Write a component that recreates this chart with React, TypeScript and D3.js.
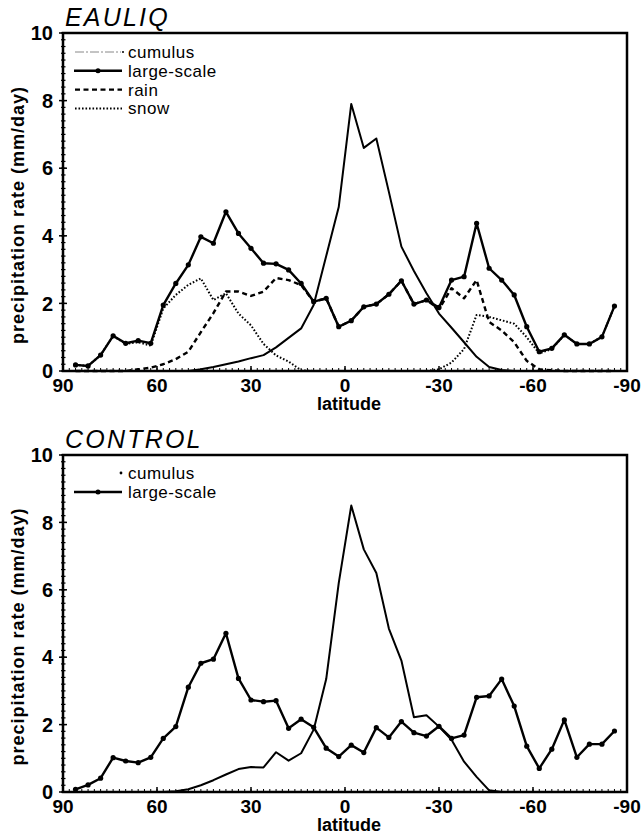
import React from 'react';
import * as d3 from 'd3';

// model latitudes (4 degree grid, north to south)
const latitudes = [
  86, 82, 78, 74, 70, 66, 62, 58, 54, 50, 46, 42, 38, 34, 30, 26, 22, 18, 14, 10, 6, 2,
  -2, -6, -10, -14, -18, -22, -26, -30, -34, -38, -42, -46, -50, -54, -58, -62, -66, -70, -74, -78, -82, -86,
];

const eauliqLargeScale = [
  0.18, 0.15, 0.47, 1.04, 0.82, 0.9, 0.82, 1.95, 2.59, 3.14, 3.97, 3.78, 4.71, 4.07, 3.63, 3.19, 3.17, 2.99, 2.59, 2.05, 2.15, 1.31,
  1.49, 1.9, 1.98, 2.27, 2.67, 1.98, 2.1, 1.88, 2.69, 2.79, 4.37, 3.04, 2.69, 2.25, 1.31, 0.57, 0.67, 1.07, 0.8, 0.8, 1.01, 1.92,
];
const eauliqCumulus = [
  0, 0, 0, 0, 0, 0, 0, 0, 0, 0, 0.05, 0.12, 0.2, 0.28, 0.38, 0.47, 0.7, 0.98, 1.26, 1.95, 3.4, 4.85,
  7.9, 6.6, 6.88, 5.3, 3.68, 2.96, 2.3, 1.7, 1.28, 0.85, 0.42, 0.12, 0.03, 0, 0, 0, 0, 0, 0, 0, 0, 0,
];
const eauliqRain = [
  0, 0, 0, 0, 0, 0.05, 0.1, 0.2, 0.35, 0.57, 1.15, 1.71, 2.35, 2.35, 2.22, 2.35, 2.75, 2.69, 2.54, 2.05, 2.15, 1.31,
  1.49, 1.9, 1.98, 2.27, 2.67, 1.98, 2.1, 1.83, 2.45, 2.15, 2.69, 1.45, 1.2, 0.85, 0.3, 0.05, 0.02, 0, 0, 0, 0, 0,
];
const eauliqSnow = [
  0.18, 0.15, 0.47, 1.04, 0.8, 0.85, 0.75, 1.85, 2.25, 2.55, 2.74, 2.1, 2.3, 1.7, 1.35, 0.8, 0.46, 0.28, 0.02, 0, 0, 0,
  0, 0, 0, 0, 0, 0, 0, 0.05, 0.25, 0.65, 1.66, 1.6, 1.5, 1.4, 1.0, 0.52, 0.65, 1.07, 0.8, 0.8, 1.01, 1.92,
];

const controlLargeScale = [
  0.08, 0.21, 0.41, 1.02, 0.92, 0.87, 1.03, 1.59, 1.94, 3.11, 3.82, 3.94, 4.71, 3.37, 2.73, 2.68, 2.71, 1.89, 2.16, 1.92, 1.3, 1.05,
  1.39, 1.17, 1.91, 1.62, 2.09, 1.76, 1.66, 1.95, 1.59, 1.69, 2.81, 2.85, 3.35, 2.55, 1.36, 0.7, 1.27, 2.14, 1.03, 1.42, 1.42, 1.81,
];
const controlCumulus = [
  0, 0, 0, 0, 0, 0, 0, 0, 0.02, 0.08, 0.2, 0.35, 0.52, 0.68, 0.74, 0.73, 1.18, 0.93, 1.15, 1.85, 3.35, 6.2,
  8.5, 7.2, 6.5, 4.85, 3.9, 2.22, 2.28, 1.94, 1.55, 0.9, 0.45, 0.05, 0, 0, 0, 0, 0, 0, 0, 0, 0, 0,
];

const xTicks = [90, 60, 30, 0, -30, -60, -90];
const yTicks = [0, 2, 4, 6, 8, 10];

const FONT = '"Liberation Sans", Arial, Helvetica, sans-serif';
const LEFT = 63;
const RIGHT = 627;

const x = d3.scaleLinear().domain([90, -90]).range([LEFT, RIGHT]);

type Series = { values: number[]; width: number; dash?: string; markers?: boolean };
type LegendItem = { label: string; kind: 'cumulus' | 'cumulusDot' | 'large' | 'rain' | 'snow' };

function LegendSample({ kind, y }: { kind: LegendItem['kind']; y: number }) {
  if (kind === 'cumulus')
    return (
      <g>
        <line x1={75} x2={121} y1={y} y2={y} stroke="#888" strokeWidth={1} strokeDasharray="9,2,2,2" />
        <circle cx={123} cy={y} r={1} fill="#000" />
      </g>
    );
  if (kind === 'cumulusDot') return <circle cx={121} cy={y} r={1.4} fill="#000" />;
  if (kind === 'large')
    return (
      <g>
        <line x1={74} x2={122} y1={y} y2={y} stroke="#000" strokeWidth={2.4} />
        <circle cx={98} cy={y} r={2.5} fill="#000" />
      </g>
    );
  if (kind === 'rain')
    return <line x1={75} x2={122} y1={y} y2={y} stroke="#000" strokeWidth={2.4} strokeDasharray="5,3.5" />;
  return <line x1={75} x2={122} y1={y} y2={y} stroke="#000" strokeWidth={2} strokeDasharray="1.6,1.9" />;
}

function Panel({
  top, bottom, title, series, legend, legendTop, rowGap,
}: {
  top: number; bottom: number; title: string; series: Series[];
  legend: LegendItem[]; legendTop: number; rowGap: number;
}) {
  const y = d3.scaleLinear().domain([0, 10]).range([bottom, top]);
  const line = d3.line<number>()
    .x((_, i) => x(latitudes[i]))
    .y((d) => y(d));
  const minorY = d3.range(0, 10.001, 0.2);
  const minorX = x.ticks(90);
  const mid = (top + bottom) / 2 + 13;

  return (
    <g>
      <text x={65} y={top - 7} fontFamily={FONT} fontStyle="italic" fontSize={25} letterSpacing={2.2}>
        {title}
      </text>

      {/* minor ticks */}
      {minorY.map((v) => (
        <line key={'my' + v} x1={LEFT - 2} x2={LEFT + 2.5} y1={y(v)} y2={y(v)} stroke="#000" strokeWidth={1.2} />
      ))}
      {minorX.map((v) => (
        <line key={'mx' + v} x1={x(v)} x2={x(v)} y1={bottom} y2={bottom - 3} stroke="#000" strokeWidth={1} />
      ))}
      {yTicks.map((v) => (
        <g key={'y' + v}>
          <line x1={LEFT - 4} x2={LEFT + 4} y1={y(v)} y2={y(v)} stroke="#000" strokeWidth={1.5} />
          <text x={53} y={y(v)} dy="0.36em" textAnchor="end" fontFamily={FONT} fontWeight="bold" fontSize={20}>
            {v}
          </text>
        </g>
      ))}
      {xTicks.map((v) => (
        <g key={'x' + v}>
          <line x1={x(v)} x2={x(v)} y1={bottom} y2={bottom - 5} stroke="#000" strokeWidth={1.5} />
          <text x={x(v)} y={bottom + 21} textAnchor="middle" fontFamily={FONT} fontWeight="bold" fontSize={19}>
            {v}
          </text>
        </g>
      ))}
      <text x={349} y={bottom + 39} textAnchor="middle" fontFamily={FONT} fontWeight="bold" fontSize={18}>
        latitude
      </text>
      <text
        transform={`translate(24,${mid}) rotate(-90)`}
        textAnchor="middle"
        fontFamily={FONT}
        fontWeight="bold"
        fontSize={18}
        letterSpacing={1}
      >
        precipitation rate (mm/day)
      </text>

      {series.map((s, i) => (
        <g key={'s' + i}>
          <path
            d={line(s.values) ?? ''}
            fill="none"
            stroke="#000"
            strokeWidth={s.width}
            strokeDasharray={s.dash}
            strokeLinejoin="round"
          />
          {s.markers &&
            s.values.map((v, j) => <circle key={j} cx={x(latitudes[j])} cy={y(v)} r={2.6} fill="#000" />)}
        </g>
      ))}

      <rect x={LEFT} y={top} width={RIGHT - LEFT} height={bottom - top} fill="none" stroke="#000" strokeWidth={2.5} />

      {legend.map((it, i) => {
        const cy = legendTop + i * rowGap;
        return (
          <g key={it.label}>
            <LegendSample kind={it.kind} y={cy} />
            <text x={128} y={cy} dy="0.35em" fontFamily={FONT} fontSize={17} letterSpacing={0.5}>
              {it.label}
            </text>
          </g>
        );
      })}
    </g>
  );
}

export default function App() {
  return (
    <svg
      width={644}
      height={840}
      viewBox="0 0 644 840"
      style={{ position: 'absolute', left: 0, top: 0, background: '#fff' }}
    >
      <rect width={644} height={840} fill="#fff" />
      <Panel
        top={33}
        bottom={371}
        title="EAULIQ"
        series={[
          { values: eauliqCumulus, width: 2 },
          { values: eauliqSnow, width: 2, dash: '1.6,1.9' },
          { values: eauliqRain, width: 2.4, dash: '5,3.5' },
          { values: eauliqLargeScale, width: 2.4, markers: true },
        ]}
        legend={[
          { label: 'cumulus', kind: 'cumulus' },
          { label: 'large-scale', kind: 'large' },
          { label: 'rain', kind: 'rain' },
          { label: 'snow', kind: 'snow' },
        ]}
        legendTop={52}
        rowGap={18.8}
      />
      <Panel
        top={455}
        bottom={792}
        title="CONTROL"
        series={[
          { values: controlCumulus, width: 2 },
          { values: controlLargeScale, width: 2.4, markers: true },
        ]}
        legend={[
          { label: 'cumulus', kind: 'cumulusDot' },
          { label: 'large-scale', kind: 'large' },
        ]}
        legendTop={473}
        rowGap={19}
      />
    </svg>
  );
}
